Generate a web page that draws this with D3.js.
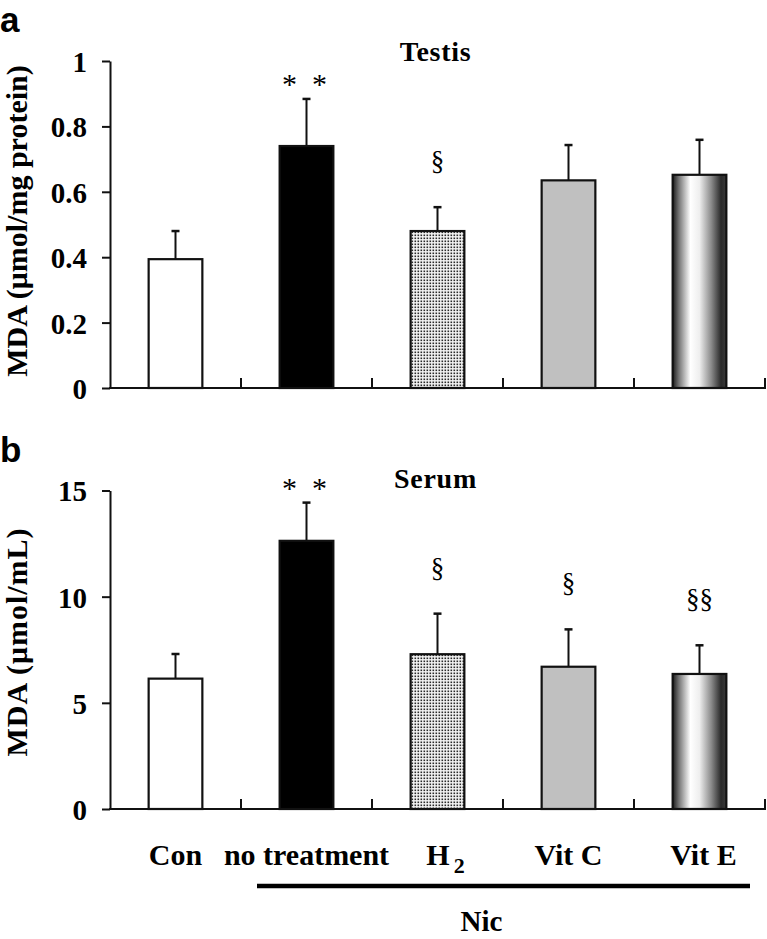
<!DOCTYPE html>
<html><head><meta charset="utf-8">
<script src="https://cdn.jsdelivr.net/npm/d3@7"></script>
<style>
html,body{margin:0;padding:0;background:#fff;}
svg{display:block;}
</style></head>
<body>
<svg id="chart" width="767" height="939"></svg>
<script>
const categories = ["Con", "no treatment", "H2", "Vit C", "Vit E"];
const testisMean = [0.394, 0.740, 0.480, 0.635, 0.652];
const testisErr  = [0.086, 0.144, 0.073, 0.108, 0.107];
const testisSig  = ["", "*\u2002*", "§", "", ""];
const serumMean  = [6.14, 12.63, 7.29, 6.70, 6.36];
const serumErr   = [1.16, 1.80, 1.91, 1.76, 1.35];
const serumSig   = ["", "*\u2002*", "§", "§", "§§"];
const testisTicks = [0, 0.2, 0.4, 0.6, 0.8, 1];
const serumTicks  = [0, 5, 10, 15];

const svg = d3.select("#chart");
const serif = "'Liberation Serif','Times New Roman',serif";
const ink = "#111";

const defs = svg.append("defs");
const pat = defs.append("pattern").attr("id","dots").attr("patternUnits","userSpaceOnUse")
  .attr("width",3).attr("height",3);
pat.append("rect").attr("width",3).attr("height",3).attr("fill","#f4f4f4");
pat.append("rect").attr("x",0.5).attr("y",0.5).attr("width",1.6).attr("height",1.6).attr("fill","#2a2a2a");
const grad = defs.append("linearGradient").attr("id","cyl").attr("x1","0").attr("x2","1").attr("y1","0").attr("y2","0");
[[0,"#1a1a1a"],[0.12,"#777"],[0.33,"#fff"],[0.5,"#eee"],[0.72,"#8a8a8a"],[0.9,"#2a2a2a"],[1,"#3a3a3a"]]
  .forEach(([o,c]) => grad.append("stop").attr("offset",o).attr("stop-color",c));
const fills = ["#fff", "#000", "url(#dots)", "#c0c0c0", "url(#cyl)"];

const x = d3.scaleBand().domain(categories).range([110, 765]).padding(0);
const barW = x.bandwidth() * 0.41;

function panel(cfg) {
  const y = d3.scaleLinear().domain(cfg.domain).range(cfg.range);
  const g = svg.append("g");
  const ax = g.append("g").attr("transform", "translate(110,0)")
    .call(d3.axisLeft(y).tickValues(cfg.ticks).tickFormat(d => String(d)).tickSize(8).tickSizeOuter(0).tickPadding(15));
  ax.select(".domain").attr("stroke", ink).attr("stroke-width", 2);
  ax.selectAll(".tick line").attr("stroke", ink).attr("stroke-width", 2);
  ax.selectAll(".tick text").attr("font-family", serif).attr("font-weight", "bold")
    .attr("font-size", 29).attr("fill", "#000").attr("dy", "0.36em");
  const y0 = y(0);
  g.append("line").attr("x1", 109).attr("x2", 766).attr("y1", y0).attr("y2", y0)
    .attr("stroke", ink).attr("stroke-width", 2);
  g.selectAll(".xt").data(categories).enter().append("line")
    .attr("x1", d => x(d) + x.bandwidth()).attr("x2", d => x(d) + x.bandwidth())
    .attr("y1", y0).attr("y2", y0 - 10).attr("stroke", ink).attr("stroke-width", 2);
  const cx = d => x(d) + x.bandwidth() / 2;
  categories.forEach((c, i) => {
    const top = y(cfg.mean[i] + cfg.err[i]);
    g.append("line").attr("x1", cx(c)).attr("x2", cx(c)).attr("y1", y(cfg.mean[i])).attr("y2", top)
      .attr("stroke", ink).attr("stroke-width", 2);
    g.append("line").attr("x1", cx(c) - 4).attr("x2", cx(c) + 4).attr("y1", top).attr("y2", top)
      .attr("stroke", ink).attr("stroke-width", 2.5);
  });
  g.selectAll(".bar").data(categories).enter().append("rect")
    .attr("x", d => cx(d) - barW / 2).attr("width", barW)
    .attr("y", (d, i) => y(cfg.mean[i])).attr("height", (d, i) => y0 - y(cfg.mean[i]))
    .attr("fill", (d, i) => fills[i]).attr("stroke", ink).attr("stroke-width", 2.2);
  categories.forEach((c, i) => {
    const s = cfg.sig[i];
    if (!s) return;
    const top = y(cfg.mean[i] + cfg.err[i]);
    const star = s.startsWith("*");
    g.append("text").attr("x", cx(c) - (star ? 2 : 0)).attr("y", top - (star ? 5 : 37))
      .attr("text-anchor", "middle").attr("font-family", serif).attr("font-size", star ? 30 : 27)
      .attr("fill", "#000").text(s);
  });
  g.append("text").attr("x", cx("H2") - 2).attr("y", cfg.titleY).attr("text-anchor", "middle")
    .attr("font-family", serif).attr("font-weight", "bold").attr("font-size", 28).attr("letter-spacing", 0.7)
    .attr("fill", "#000").text(cfg.title);
  g.append("text").attr("transform", `translate(27,${cfg.labelY}) rotate(-90)`).attr("text-anchor", "middle")
    .attr("font-family", serif).attr("font-weight", "bold").attr("font-size", 30).attr("letter-spacing", cfg.ls)
    .attr("fill", "#000").text(cfg.ylabel);
  g.append("text").attr("x", 0).attr("y", cfg.letterY).attr("font-family", "'Liberation Sans',Arial,sans-serif")
    .attr("font-weight", "bold").attr("font-size", 35).attr("fill", "#000").text(cfg.letter);
  return y;
}

panel({domain:[0,1], range:[388,61], ticks:testisTicks, mean:testisMean, err:testisErr, sig:testisSig,
  title:"Testis", titleY:61, ylabel:"MDA (μmol/mg protein)", labelY:221, ls:0, letter:"a", letterY:32});
panel({domain:[0,15], range:[809,490.5], ticks:serumTicks, mean:serumMean, err:serumErr, sig:serumSig,
  title:"Serum", titleY:488, ylabel:"MDA (μmol/mL)", labelY:642, ls:1, letter:"b", letterY:462});

const lab = svg.append("g").attr("font-family", serif).attr("font-weight", "bold").attr("font-size", 30).attr("fill", "#000");
categories.forEach(c => {
  const cx = x(c) + x.bandwidth() / 2;
  if (c === "H2") {
    const t = lab.append("text").attr("x", cx + 8).attr("y", 865).attr("text-anchor", "middle");
    t.append("tspan").text("H");
    t.append("tspan").attr("dx", 4).attr("dy", 8).attr("font-size", 22).text("2");
  } else {
    lab.append("text").attr("x", cx + (c === "Vit E" ? 4 : 0)).attr("y", 865).attr("text-anchor", "middle").text(c);
  }
});
const nx1 = x("no treatment") + 16, nx2 = x("Vit E") + x.bandwidth() - 15;
svg.append("line").attr("x1", nx1).attr("x2", nx2).attr("y1", 886).attr("y2", 886)
  .attr("stroke", "#000").attr("stroke-width", 4.5);
svg.append("text").attr("x", (nx1 + nx2) / 2 - 22).attr("y", 931).attr("text-anchor", "middle")
  .attr("font-family", serif).attr("font-weight", "bold").attr("font-size", 29).attr("fill", "#000").text("Nic");
</script>
</body></html>
